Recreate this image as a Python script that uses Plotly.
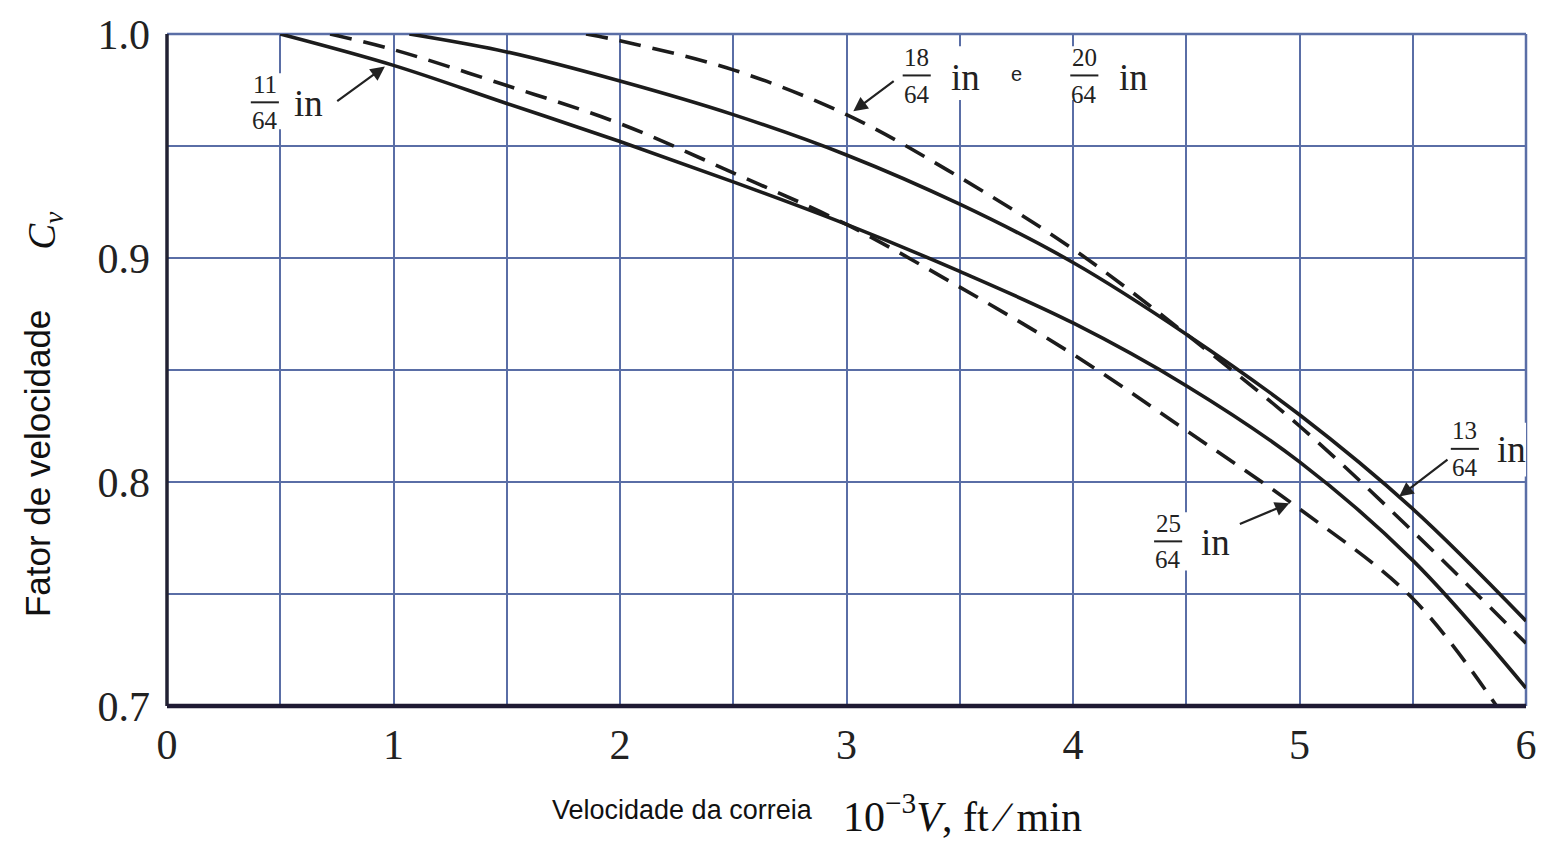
import plotly.graph_objects as go

# ---- data ----
x_11 = [0.5, 1.0, 1.5, 2.0, 2.5, 3.0, 3.5, 4.0, 4.5, 5.0, 5.5, 6.0]
y_11 = [1.000, 0.986, 0.969, 0.952, 0.934, 0.915, 0.894, 0.871, 0.843, 0.809, 0.765, 0.708]

x_13 = [1.07, 1.5, 2.0, 2.5, 3.0, 3.5, 4.0, 4.5, 5.0, 5.5, 6.0]
y_13 = [1.000, 0.992, 0.979, 0.964, 0.946, 0.924, 0.898, 0.866, 0.830, 0.788, 0.738]

x_25 = [0.72, 1.0, 1.5, 2.0, 2.5, 3.0, 3.5, 4.0, 4.5, 5.0, 5.5, 5.87]
y_25 = [1.000, 0.993, 0.977, 0.960, 0.938, 0.915, 0.887, 0.857, 0.823, 0.788, 0.748, 0.700]

x_18 = [1.85, 2.0, 2.5, 3.0, 3.5, 4.0, 4.5, 5.0, 5.5, 6.0]
y_18 = [1.000, 0.997, 0.984, 0.964, 0.936, 0.904, 0.866, 0.825, 0.778, 0.728]

x_ticks = [0, 1, 2, 3, 4, 5, 6]
y_ticks = [0.7, 0.8, 0.9, 1.0]
y_tick_text = ["0.7", "0.8", "0.9", "1.0"]

GRID = "#5a6ea6"
INK = "#1c1c1c"
SERIF = "Liberation Serif, Times New Roman, serif"
SANS = "Liberation Sans, Arial, sans-serif"

fig = go.Figure()
series = [
    (x_11, y_11, "solid", "11/64 in"),
    (x_13, y_13, "solid", "13/64 in"),
    (x_25, y_25, "22px,12px", "25/64 in"),
    (x_18, y_18, "22px,12px", "18/64 in e 20/64 in"),
]
for xs, ys, dash, name in series:
    fig.add_trace(go.Scatter(
        x=xs, y=ys, mode="lines", name=name,
        line=dict(color=INK, width=3.6, dash=dash, shape="spline", smoothing=1.0),
        showlegend=False, hoverinfo="skip",
    ))

annotations = []
shapes = []


def blank(x0, x1, y0, y1):
    # white patch that interrupts the grid behind a label
    shapes.append(dict(type="rect", xref="x", yref="y", x0=x0, x1=x1, y0=y0, y1=y1,
                       fillcolor="white", line=dict(width=0), layer="above"))


def fraction(num, den, xc, y_num, y_bar, y_den, x_in, y_in):
    annotations.append(dict(x=xc, y=y_num, xref="x", yref="y", text=num, showarrow=False,
                            font=dict(family=SERIF, size=25, color="#222")))
    annotations.append(dict(x=xc, y=y_den, xref="x", yref="y", text=den, showarrow=False,
                            font=dict(family=SERIF, size=25, color="#222")))
    annotations.append(dict(x=x_in, y=y_in, xref="x", yref="y", text="in", showarrow=False,
                            font=dict(family=SERIF, size=37, color="#222")))
    shapes.append(dict(type="line", xref="x", yref="y", x0=xc - 0.062, x1=xc + 0.062,
                       y0=y_bar, y1=y_bar, line=dict(color="#222", width=2), layer="above"))


def arrow(x_head, y_head, x_tail, y_tail):
    annotations.append(dict(x=x_head, y=y_head, ax=x_tail, ay=y_tail, xref="x", yref="y",
                            axref="x", ayref="y", text="", showarrow=True,
                            arrowhead=2, arrowsize=1.3, arrowwidth=2.2, arrowcolor="#222"))


# white patches first, so the fraction bars are drawn on top of them
blank(0.36, 0.70, 0.9575, 0.9825)
blank(3.22, 4.36, 0.9705, 0.9945)
blank(5.64, 6.0, 0.8025, 0.8265)
blank(4.34, 4.71, 0.7605, 0.7865)

# 11/64 in
fraction("11", "64", 0.432, 0.9775, 0.9695, 0.9612, 0.624, 0.9688)
arrow(0.962, 0.9855, 0.745, 0.9695)
# 18/64 in  e  20/64 in
fraction("18", "64", 3.31, 0.9895, 0.9815, 0.9732, 3.525, 0.9805)
annotations.append(dict(x=3.75, y=0.982, xref="x", yref="y", text="e", showarrow=False,
                        font=dict(family=SANS, size=20, color="#222")))
fraction("20", "64", 4.05, 0.9895, 0.9815, 0.9732, 4.265, 0.9805)
arrow(3.03, 0.9655, 3.215, 0.9795)
# 13/64 in
fraction("13", "64", 5.73, 0.8228, 0.8148, 0.8066, 5.935, 0.8145)
arrow(5.44, 0.7935, 5.66, 0.8105)
# 25/64 in
fraction("25", "64", 4.42, 0.7815, 0.7735, 0.7652, 4.63, 0.7728)
arrow(4.955, 0.7905, 4.73, 0.7810)

# axis titles (placed by pixel, converted to paper coordinates below)
annotations.append(dict(x=38, y=461, xref="paper", yref="paper", text="Fator de velocidade",
                        showarrow=False, textangle=-90,
                        font=dict(family=SANS, size=35, color="#111")))
annotations.append(dict(x=44, y=225, xref="paper", yref="paper", text="<i>C<sub>v</sub></i>",
                        showarrow=False, textangle=-90,
                        font=dict(family=SERIF, size=39, color="#111")))
annotations.append(dict(x=683, y=811, xref="paper", yref="paper", text="Velocidade da correia",
                        showarrow=False, font=dict(family=SANS, size=27, color="#111")))
annotations.append(dict(x=964, y=815, xref="paper", yref="paper",
                        text="10<sup>\u22123</sup><i>V</i>, ft \u2215 min",
                        showarrow=False, font=dict(family=SERIF, size=42, color="#111")))

W, H = 1549, 843
L, R, T, B = 167, 21, 26, 137
for a in annotations:
    if a.get("xref") == "paper":
        a["x"] = (a["x"] - L) / (W - L - R)
        a["y"] = 1 - (a["y"] - T) / (H - T - B)
        a["xanchor"] = "center"
        a["yanchor"] = "middle"

# frame: dark left/bottom, grid-coloured top/right
shapes.append(dict(type="line", xref="paper", yref="paper", x0=0, x1=0, y0=0, y1=1,
                   line=dict(color="#222233", width=3.5), layer="above"))
shapes.append(dict(type="line", xref="paper", yref="paper", x0=0, x1=1, y0=0, y1=0,
                   line=dict(color="#1e1a33", width=4.5), layer="above"))
shapes.append(dict(type="line", xref="paper", yref="paper", x0=0, x1=1, y0=1, y1=1,
                   line=dict(color=GRID, width=2.5), layer="below"))
shapes.append(dict(type="line", xref="paper", yref="paper", x0=1, x1=1, y0=0, y1=1,
                   line=dict(color=GRID, width=2.5), layer="below"))

fig.update_layout(
    width=W, height=H,
    margin=dict(l=L, r=R, t=T, b=B),
    paper_bgcolor="white", plot_bgcolor="white",
    annotations=annotations, shapes=shapes,
    xaxis=dict(range=[0, 6], tickvals=x_ticks, ticktext=[str(v) for v in x_ticks],
               showgrid=True, gridcolor=GRID, gridwidth=2,
               minor=dict(dtick=0.5, showgrid=True, gridcolor=GRID, gridwidth=2),
               zeroline=False, showline=False, ticks="", ticklabeloverflow="allow",
               tickfont=dict(family=SERIF, size=42, color="#222"), ticklabelstandoff=10),
    yaxis=dict(range=[0.7, 1.0], tickvals=y_ticks, ticktext=y_tick_text,
               showgrid=True, gridcolor=GRID, gridwidth=2,
               minor=dict(dtick=0.05, showgrid=True, gridcolor=GRID, gridwidth=2),
               zeroline=False, showline=False, ticks="", ticklabeloverflow="allow",
               tickfont=dict(family=SERIF, size=42, color="#222"), ticklabelstandoff=16),
)

fig.write_html("out.html", config={"displayModeBar": False},
               post_script="document.body.style.margin='0';")
